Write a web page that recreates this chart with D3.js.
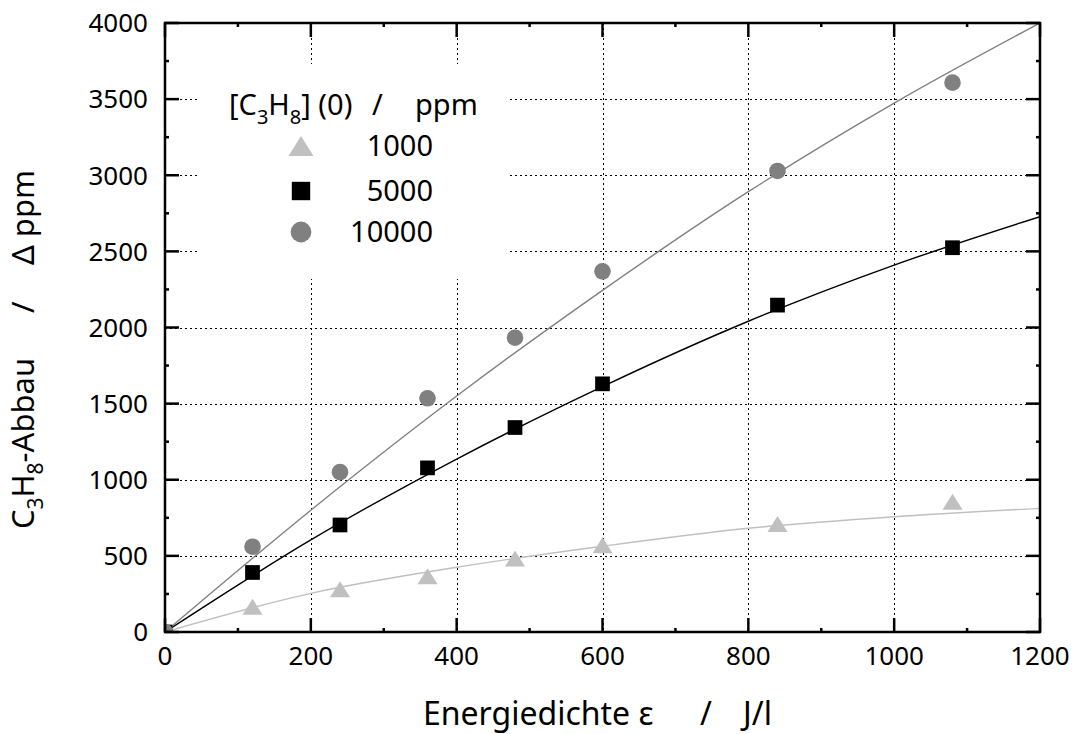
<!DOCTYPE html>
<html>
<head>
<meta charset="utf-8">
<script src="https://cdn.jsdelivr.net/npm/d3@7"></script>
<style>
  html, body { margin: 0; padding: 0; background: #fff; }
  svg { display: block; font-family: "Noto Sans", "Open Sans", sans-serif; }
</style>
</head>
<body>
<svg id="chart" width="1074" height="734"></svg>
<script>
// Energy density (J/l) at which propane conversion was measured
const energy = [0, 120, 240, 360, 480, 600, 840, 1080];
// Propane removed (Δ ppm) for each initial concentration
const conc1000 = [0, 166, 280, 366, 482, 569, 710, 856];
const conc5000 = [0, 391, 703, 1078, 1343, 1630, 2147, 2524];
const conc10000 = [0, 560, 1050, 1535, 1933, 2369, 3028, 3608];

// Fitted curves, sampled along the energy axis
const fitEnergy = [0, 200, 400, 600, 800, 1000, 1200];
const fit1000 = [0, 254, 425, 563, 681, 757, 812];
const fit5000 = [0, 605, 1136, 1612, 2041, 2410, 2728];
const fit10000 = [0, 800, 1550, 2244, 2892, 3474, 4000];

const seriesLabels = ["1000", "5000", "10000"];
const xTicks = [0, 200, 400, 600, 800, 1000, 1200];
const yTicks = [0, 500, 1000, 1500, 2000, 2500, 3000, 3500, 4000];

const svg = d3.select("#chart");
const plotLeft = 165, plotTop = 23, plotW = 875, plotH = 609;

const x = d3.scaleLinear().domain([0, 1200]).range([plotLeft, plotLeft + plotW]);
const y = d3.scaleLinear().domain([0, 4000]).range([plotTop + plotH, plotTop]);

const series = [
  { label: seriesLabels[0], values: conc1000, fit: fit1000, color: "#c0c0c0", shape: "triangle" },
  { label: seriesLabels[1], values: conc5000, fit: fit5000, color: "#000000", shape: "square" },
  { label: seriesLabels[2], values: conc10000, fit: fit10000, color: "#808080", shape: "circle" }
];

svg.append("defs").append("clipPath").attr("id", "plotClip")
  .append("rect").attr("x", plotLeft).attr("y", plotTop).attr("width", plotW).attr("height", plotH);

// Dotted grid at major ticks
const grid = svg.append("g").attr("stroke", "#000").attr("stroke-width", 1)
  .attr("stroke-dasharray", "2,3");
grid.selectAll("line.v").data(xTicks.slice(1, -1)).join("line").attr("class", "v")
  .attr("x1", d => Math.round(x(d)) + 0.5).attr("x2", d => Math.round(x(d)) + 0.5)
  .attr("y1", plotTop).attr("y2", plotTop + plotH);
grid.selectAll("line.h").data(yTicks.slice(1, -1)).join("line").attr("class", "h")
  .attr("y1", d => Math.round(y(d)) + 0.5).attr("y2", d => Math.round(y(d)) + 0.5)
  .attr("x1", plotLeft).attr("x2", plotLeft + plotW);

// Legend background hides the grid behind it
svg.append("rect").attr("x", 197).attr("y", 64).attr("width", 312).attr("height", 215)
  .attr("fill", "#fff");

// Fit curves
const fitLine = d3.line()
  .x((d, i) => x(fitEnergy[i]))
  .y(d => y(d))
  .curve(d3.curveCatmullRom.alpha(0.5));
const plot = svg.append("g").attr("clip-path", "url(#plotClip)");
series.forEach(s => {
  plot.append("path").datum(s.fit)
    .attr("d", fitLine)
    .attr("fill", "none")
    .attr("stroke", s.color)
    .attr("stroke-width", 1.4);
});

function drawMarker(g, shape, color, size) {
  if (shape === "triangle") {
    const w = size * 1.25, h = size;
    g.append("path").attr("d", `M0,${-h / 2}L${w / 2},${h / 2}L${-w / 2},${h / 2}Z`).attr("fill", color);
  } else if (shape === "square") {
    const s = size * 0.92;
    g.append("rect").attr("x", -s / 2).attr("y", -s / 2).attr("width", s).attr("height", s).attr("fill", color);
  } else {
    g.append("circle").attr("r", size * 0.52).attr("fill", color);
  }
}

// Data markers
series.forEach(s => {
  s.values.forEach((v, i) => {
    const g = plot.append("g").attr("transform", `translate(${x(energy[i])},${y(v)})`);
    drawMarker(g, s.shape, s.color, 16);
  });
});

// Frame and ticks on all four sides
const frame = svg.append("g").attr("stroke", "#000");
frame.append("rect").attr("x", plotLeft).attr("y", plotTop).attr("width", plotW).attr("height", plotH)
  .attr("fill", "none").attr("stroke-width", 2.5);

const xMinor = d3.range(100, 1200, 200);
const yMinor = d3.range(250, 4000, 500);
const tickW = 2.5;
const bottom = plotTop + plotH, right = plotLeft + plotW;
xTicks.forEach(d => {
  frame.append("line").attr("x1", x(d)).attr("x2", x(d)).attr("y1", bottom).attr("y2", bottom - 14).attr("stroke-width", tickW);
  frame.append("line").attr("x1", x(d)).attr("x2", x(d)).attr("y1", plotTop).attr("y2", plotTop + 14).attr("stroke-width", tickW);
});
xMinor.forEach(d => {
  frame.append("line").attr("x1", x(d)).attr("x2", x(d)).attr("y1", bottom).attr("y2", bottom - 4).attr("stroke-width", tickW);
  frame.append("line").attr("x1", x(d)).attr("x2", x(d)).attr("y1", plotTop).attr("y2", plotTop + 4).attr("stroke-width", tickW);
});
yTicks.forEach(d => {
  frame.append("line").attr("y1", y(d)).attr("y2", y(d)).attr("x1", plotLeft).attr("x2", plotLeft + 14).attr("stroke-width", tickW);
  frame.append("line").attr("y1", y(d)).attr("y2", y(d)).attr("x1", right).attr("x2", right - 14).attr("stroke-width", tickW);
});
yMinor.forEach(d => {
  frame.append("line").attr("y1", y(d)).attr("y2", y(d)).attr("x1", plotLeft).attr("x2", plotLeft + 4).attr("stroke-width", tickW);
  frame.append("line").attr("y1", y(d)).attr("y2", y(d)).attr("x1", right).attr("x2", right - 4).attr("stroke-width", tickW);
});

// Tick labels
svg.append("g").selectAll("text").data(xTicks).join("text")
  .attr("x", d => x(d)).attr("y", 665)
  .attr("text-anchor", "middle").attr("font-size", 26).attr("fill", "#000")
  .text(d => d);
svg.append("g").selectAll("text").data(yTicks).join("text")
  .attr("x", 148).attr("y", d => y(d)).attr("dy", "0.36em")
  .attr("text-anchor", "end").attr("font-size", 26).attr("fill", "#000")
  .text(d => d);

// Axis titles
const xt = svg.append("text").attr("y", 725).attr("font-size", 32).attr("fill", "#000");
xt.append("tspan").attr("x", 423).text("Energiedichte ε");
xt.append("tspan").attr("x", 700).text("/");
xt.append("tspan").attr("x", 743).text("J/l");

const yt = svg.append("text").attr("transform", "translate(34,529) rotate(-90)")
  .attr("font-size", 31).attr("fill", "#000");
yt.append("tspan").text("C");
yt.append("tspan").attr("font-size", 21).attr("dy", 9).text("3");
yt.append("tspan").attr("dy", -9).text("H");
yt.append("tspan").attr("font-size", 21).attr("dy", 9).text("8");
yt.append("tspan").attr("dy", -9).text("-Abbau");
yt.append("tspan").attr("x", 216).text("/");
yt.append("tspan").attr("x", 264).text("Δ ppm");

// Legend
const lt = svg.append("text").attr("x", 229).attr("y", 115).attr("font-size", 29).attr("fill", "#000");
lt.append("tspan").text("[C");
lt.append("tspan").attr("font-size", 20).attr("dy", 9).text("3");
lt.append("tspan").attr("dy", -9).text("H");
lt.append("tspan").attr("font-size", 20).attr("dy", 9).text("8");
lt.append("tspan").attr("dy", -9).text("] (0)");
lt.append("tspan").attr("x", 372).text("/");
lt.append("tspan").attr("x", 415).text("ppm");

const legendRows = [146, 191, 232];
series.forEach((s, i) => {
  const g = svg.append("g").attr("transform", `translate(301,${legendRows[i]})`);
  drawMarker(g, s.shape, s.color, 20);
  svg.append("text").attr("x", 433).attr("y", legendRows[i]).attr("dy", "0.36em")
    .attr("text-anchor", "end").attr("font-size", 29).attr("fill", "#000")
    .text(s.label);
});
</script>
</body>
</html>
